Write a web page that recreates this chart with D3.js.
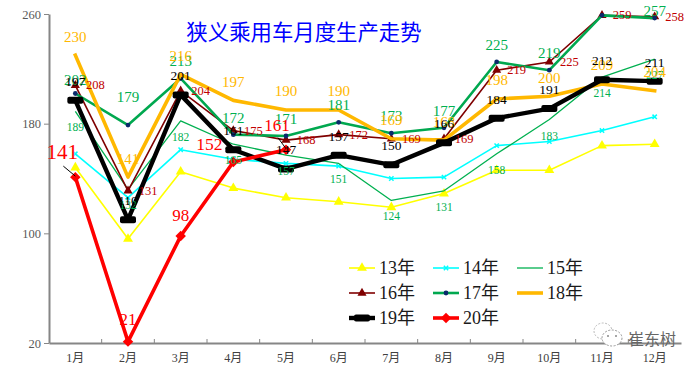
<!DOCTYPE html>
<html lang="zh">
<head>
    <meta charset="UTF-8">
    <title>狭义乘用车月度生产走势</title>
    <script src="https://d3js.org/d3.v7.min.js"></script>
    <style>
        body {
            margin: 0;
            background-color: #ffffff;
        }
        svg {
            display: block;
        }
        text {
            font-family: "Liberation Serif", "Noto Sans CJK SC", serif;
        }
    </style>
</head>
<body>
    <div id="chart"></div>

    <script>
        // Data
        const months = ['1月', '2月', '3月', '4月', '5月', '6月', '7月', '8月', '9月', '10月', '11月', '12月'];
        const yTicks = [20, 100, 180, 260];

        const y13 = [148, 96, 145, 133, 126, 123, 119, 129, 146, 146, 164, 165];
        const y14 = [158, 126, 161, 154, 151, 149, 140, 141, 164, 167, 175, 185];
        const y15 = [189, 132, 182, 165, 157, 151, 124, 131, 158, 183, 214, 227];
        const y16 = [208, 131, 204, 175, 168, 172, 169, 169, 219, 225, 259, 258];
        const y17 = [202, 179, 213, 172, 171, 181, 173, 177, 225, 219, 259, 257];
        const y18 = [230, 141, 216, 197, 190, 190, 169, 168, 198, 200, 209, 204];
        const y19 = [197, 110, 201, 161, 147, 157, 150, 166, 184, 191, 212, 211];
        const y20 = [141, 21, 98, 152, 161];

        const names = ['13年', '14年', '15年', '16年', '17年', '18年', '19年', '20年'];
        const titleText = '狭义乘用车月度生产走势';

        // Line style for each series
        const styles = [
            { values: y13, color: '#ffff00', width: 1.6, marker: 'triangle', size: 42, markerColor: '#ffff00' },
            { values: y14, color: '#00ffff', width: 1.6, marker: 'cross', size: 14, markerColor: '#00ffff' },
            { values: y15, color: '#00b050', width: 1.3 },
            { values: y16, color: '#7f0000', width: 1.6, marker: 'triangle', size: 36, markerColor: '#7f0000' },
            { values: y17, color: '#00a84f', width: 2.6, marker: 'circle', size: 18, markerColor: '#0b2a6b' },
            { values: y18, color: '#ffb800', width: 3.6 },
            { values: y19, color: '#000000', width: 4.4, marker: 'bar' },
            { values: y20, color: '#ff0000', width: 3.6, marker: 'diamond', size: 70, markerColor: '#ff0000' }
        ];

        // Data label settings, same order as the series they belong to
        const labelSets = [
            { values: y15, color: '#00b050', size: 11.5, dx: 0, dy: 16 },
            { values: y16, color: '#c00000', size: 12.5, dx: 20, dy: 0 },
            { values: y17, color: '#00b050', size: 15, dx: 0, dy: -17, skip: [10], shift: { 0: [0, 3], 1: [0, -11], 11: [0, 10] } },
            { values: y18, color: '#ffb800', size: 15, dx: 0, dy: -18.5 },
            { values: y19, color: '#000000', size: 13.5, dx: 0, dy: -19 }
        ];

        // The 20年 labels are each a different size
        const redLabelSize = [21, 17, 17, 17.5, 17];
        const redLabelDx = [-13, 0, 0, -24, -9];
        const redLabelDy = [-25, -22, -21, -18, -24];

        const width = 700;
        const height = 369;

        const svg = d3.select('#chart')
            .append('svg')
            .attr('width', width)
            .attr('height', height);

        const x = d3.scaleBand().domain(months).range([49, 681]);
        const y = d3.scaleLinear().domain([20, 260]).range([343, 14]);
        const px = i => x(months[i]) + x.bandwidth() / 2;

        // Axes
        const axisLeft = svg.append('g')
            .attr('transform', 'translate(49,0)')
            .call(d3.axisLeft(y).tickValues(yTicks).tickSize(5).tickSizeOuter(0).tickPadding(3));
        axisLeft.select('.domain').attr('stroke', '#868686').attr('stroke-width', 2);
        axisLeft.selectAll('line').attr('stroke', '#868686');
        axisLeft.selectAll('text').attr('fill', '#595959').style('font-size', '12.5px');

        const axisBottom = svg.append('g')
            .attr('transform', 'translate(0,343)')
            .call(d3.axisBottom(x).tickSize(0).tickPadding(10));
        axisBottom.select('.domain').attr('stroke', '#868686').attr('stroke-width', 2);
        axisBottom.selectAll('text').attr('fill', '#404040').style('font-size', '12px');

        // Small ticks between the months, pointing up
        svg.append('g').selectAll('line')
            .data(months.slice(1))
            .enter()
            .append('line')
            .attr('x1', d => x(d))
            .attr('x2', d => x(d))
            .attr('y1', 343)
            .attr('y2', 339)
            .attr('stroke', '#868686');

        // Draws one marker centred on 0,0
        function addMarker(g, s) {
            if (s.marker === 'bar') {
                g.append('rect')
                    .attr('x', -8)
                    .attr('y', -3.5)
                    .attr('width', 16)
                    .attr('height', 7)
                    .attr('rx', 2)
                    .attr('fill', s.color);
            } else if (s.marker) {
                const types = {
                    triangle: d3.symbolTriangle,
                    cross: d3.symbolTimes,
                    circle: d3.symbolCircle,
                    diamond: d3.symbolDiamond2
                };
                const shape = d3.symbol().type(types[s.marker]).size(s.size)();
                g.append('path')
                    .attr('d', shape)
                    .attr('fill', s.marker === 'cross' ? 'none' : s.markerColor)
                    .attr('stroke', s.markerColor)
                    .attr('stroke-width', s.marker === 'cross' ? 1.5 : 0);
            }
        }

        // Lines and markers
        const line = d3.line()
            .x((d, i) => px(i))
            .y(d => y(d));

        styles.forEach(s => {
            svg.append('path')
                .datum(s.values)
                .attr('d', line)
                .attr('fill', 'none')
                .attr('stroke', s.color)
                .attr('stroke-width', s.width)
                .attr('stroke-linejoin', 'round')
                .attr('stroke-linecap', s.color === '#ffb800' ? 'square' : 'butt');

            s.values.forEach((v, i) => {
                const g = svg.append('g').attr('transform', `translate(${px(i)},${y(v)})`);
                addMarker(g, s);
            });
        });

        // Data labels
        labelSets.forEach(set => {
            set.values.forEach((v, i) => {
                if (set.skip && set.skip.includes(i)) return;
                const extra = (set.shift && set.shift[i]) || [0, 0];
                svg.append('text')
                    .attr('x', px(i) + set.dx + extra[0])
                    .attr('y', y(v) + set.dy + extra[1])
                    .attr('text-anchor', 'middle')
                    .attr('dominant-baseline', 'central')
                    .attr('fill', set.color)
                    .style('font-size', set.size + 'px')
                    .text(v);
            });
        });

        y20.forEach((v, i) => {
            svg.append('text')
                .attr('x', px(i) + redLabelDx[i])
                .attr('y', y(v) + redLabelDy[i])
                .attr('text-anchor', 'middle')
                .attr('dominant-baseline', 'central')
                .attr('fill', '#ff0000')
                .style('font-size', redLabelSize[i] + 'px')
                .text(v);
        });

        // Leader lines for the 141 and 161 labels
        [0, 4].forEach(i => {
            svg.append('line')
                .attr('x1', px(i) + (i === 0 ? -12 : -8))
                .attr('y1', y(y20[i]) + (i === 0 ? -11 : -12))
                .attr('x2', px(i))
                .attr('y2', y(y20[i]) - 1)
                .attr('stroke', '#000000')
                .attr('stroke-width', 1);
        });

        // Title
        svg.append('text')
            .attr('x', 304)
            .attr('y', 30)
            .attr('text-anchor', 'middle')
            .attr('dominant-baseline', 'central')
            .attr('fill', '#0000ff')
            .style('font-family', '"Noto Sans CJK SC", sans-serif')
            .style('font-size', '21.4px')
            .text(titleText);

        // Legend, three columns
        names.forEach((name, i) => {
            const s = styles[i];
            const col = i % 3;
            const row = Math.floor(i / 3);
            const g = svg.append('g')
                .attr('transform', `translate(${349 + col * 84},${268 + row * 25})`);

            g.append('line')
                .attr('x1', 0)
                .attr('x2', 26)
                .attr('stroke', s.color)
                .attr('stroke-width', s.width);

            const m = g.append('g').attr('transform', 'translate(13,0)');
            addMarker(m, s);

            g.append('text')
                .attr('x', 30)
                .attr('dominant-baseline', 'central')
                .attr('fill', '#1a1a1a')
                .style('font-size', '18px')
                .text(name);
        });

        // WeChat style watermark at the bottom right
        const mark = svg.append('g');
        mark.append('ellipse')
            .attr('cx', 603).attr('cy', 331).attr('rx', 9).attr('ry', 8)
            .attr('fill', '#ffffff').attr('stroke', '#bbbbbb').attr('stroke-dasharray', '2 1.5');
        mark.append('ellipse')
            .attr('cx', 612).attr('cy', 338).attr('rx', 10).attr('ry', 8)
            .attr('fill', '#ffffff').attr('stroke', '#999999').attr('stroke-dasharray', '2 1.5');
        [608, 616].forEach(cx => {
            mark.append('circle').attr('cx', cx).attr('cy', 336).attr('r', 1).attr('fill', '#888888');
        });
        mark.append('text')
            .attr('x', 628)
            .attr('y', 338)
            .attr('dominant-baseline', 'central')
            .attr('fill', '#666666')
            .style('font-family', '"Noto Sans CJK SC", sans-serif')
            .style('font-size', '16px')
            .text('崔东树');
    </script>
</body>
</html>
